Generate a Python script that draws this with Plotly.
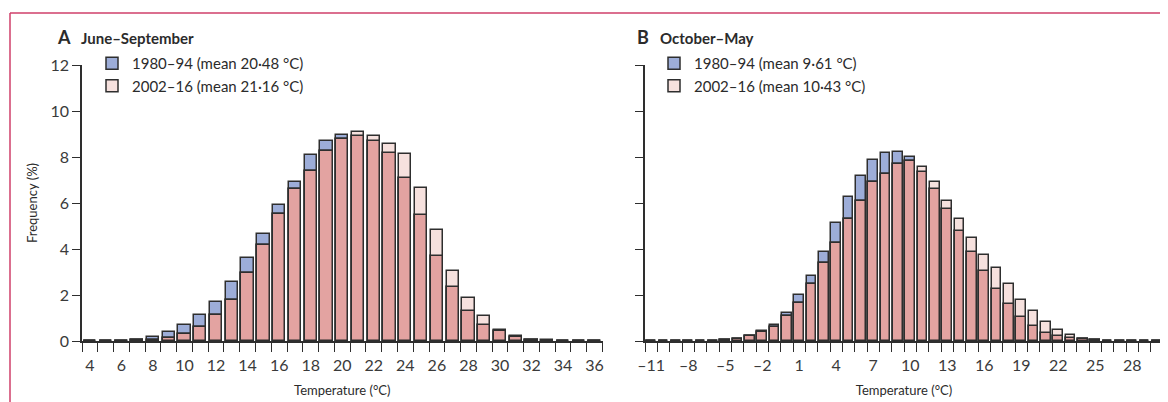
import plotly.graph_objects as go

# ---------------- data ----------------
a_bins = list(range(4, 37))            # panel A temperature bins (°C)
a_1980 = [0.02, 0.02, 0.02, 0.05, 0.19, 0.41, 0.68, 1.14, 1.68, 2.55, 3.59,
          4.67, 5.90, 6.91, 8.09, 8.68, 8.94, 8.90, 8.70, 8.19, 7.10, 5.48,
          3.71, 2.36, 1.32, 0.71, 0.42, 0.17, 0.04, 0.02, 0.01, 0.01, 0.0]
a_2002 = [0.01, 0.01, 0.01, 0.03, 0.05, 0.12, 0.29, 0.62, 1.12, 1.77, 2.94,
          4.17, 5.52, 6.61, 7.38, 8.26, 8.78, 9.10, 8.90, 8.58, 8.13, 6.65,
          4.83, 3.03, 1.87, 1.10, 0.49, 0.20, 0.06, 0.03, 0.01, 0.01, 0.0]

b_bins = list(range(-11, 31))          # panel B temperature bins (°C)
b_1980 = [0.0, 0.0, 0.01, 0.01, 0.01, 0.02, 0.05, 0.10, 0.22, 0.42, 0.71,
          1.22, 2.00, 2.83, 3.87, 5.12, 6.25, 7.17, 7.88, 8.16, 8.23, 7.99,
          7.35, 6.59, 5.75, 4.80, 3.88, 3.06, 2.28, 1.61, 1.03, 0.67, 0.36,
          0.20, 0.12, 0.08, 0.03, 0.02, 0.01, 0.01, 0.0, 0.0]
b_2002 = [0.0, 0.0, 0.0, 0.01, 0.01, 0.01, 0.04, 0.09, 0.20, 0.40, 0.62,
          1.07, 1.67, 2.49, 3.41, 4.28, 5.32, 6.09, 6.93, 7.28, 7.68, 7.83,
          7.55, 6.90, 6.07, 5.32, 4.49, 3.75, 3.16, 2.49, 1.80, 1.30, 0.83,
          0.46, 0.25, 0.10, 0.04, 0.02, 0.01, 0.01, 0.0, 0.0]

a_names = ["1980–94 (mean 20·48 °C)", "2002–16 (mean 21·16 °C)"]
b_names = ["1980–94 (mean 9·61 °C)", "2002–16 (mean 10·43 °C)"]
a_ticks = list(range(4, 37, 2))
b_ticks = list(range(-11, 29, 3))
y_ticks = list(range(0, 13, 2))

# ---------------- style ----------------
FONT = "Lato"
TXT = "#2b2b2b"
BLUE = "#9dadd8"
PINK = "#f6e1de"
SALMON = "#e3a3a1"
EDGE = "#2e2e2e"
W, H = 1168, 402
OFF = 8          # page body margin: figure is drawn 8 px right/down
ML, MR, MT, MB = 74, 5, 57, 69
PW, PH = W - ML - MR, H - MT - MB


def px_x(px):
    return (px - OFF - ML) / PW


def px_y(py):
    return (H - MB - (py - OFF)) / PH


fig = go.Figure()


def add_panel(bins, old, new, names, xa, ya, leg):
    overlap = [min(o, n) for o, n in zip(old, new)]
    common = dict(x=bins, width=0.78, xaxis=xa, yaxis=ya,
                  marker_line=dict(color=EDGE, width=1.5))
    fig.add_trace(go.Bar(y=old, name=names[0], marker_color=BLUE,
                         legend=leg, **common))
    fig.add_trace(go.Bar(y=new, name=names[1], marker_color=PINK,
                         legend=leg, **common))
    fig.add_trace(go.Bar(y=overlap, marker_color=SALMON, showlegend=False,
                         hoverinfo="skip", **common))


add_panel(a_bins, a_1980, a_2002, a_names, "x", "y", "legend")
add_panel(b_bins, b_1980, b_2002, b_names, "x2", "y2", "legend2")


def xaxis_cfg(bins, ticks, dom, text):
    edges = [b - 0.5 for b in bins] + [bins[-1] + 0.5]
    return dict(domain=dom, range=[bins[0] - 0.5, bins[-1] + 0.5],
                tickmode="array", tickvals=ticks,
                ticktext=[str(t).replace("-", "–") for t in ticks],
                ticks="outside", ticklen=9, tickcolor="rgba(0,0,0,0)",
                minor=dict(tickmode="array", tickvals=edges, ticks="outside",
                           ticklen=9, tickcolor=EDGE, tickwidth=1.3),
                showline=True, linecolor=EDGE, linewidth=1.5,
                showgrid=False, zeroline=False,
                tickfont=dict(size=16, color="#3a3a3a", family=FONT),
                title=dict(text=text, font=dict(size=13, color=TXT, family=FONT),
                           standoff=13),
                automargin=False)


def yaxis_cfg(anchor, labels):
    return dict(domain=[0, 1], range=[0, 12], anchor=anchor,
                tickmode="array", tickvals=y_ticks, ticks="outside",
                ticklen=8, tickcolor=EDGE, tickwidth=1.3,
                showticklabels=labels, showline=True, linecolor=EDGE,
                linewidth=1.5, showgrid=False, zeroline=False,
                tickfont=dict(size=16, color="#3a3a3a", family=FONT),
                automargin=False)


fig.update_layout(
    width=W, height=H,
    margin=dict(l=ML, r=MR, t=MT, b=MB),
    paper_bgcolor="white", plot_bgcolor="white",
    barmode="overlay", bargap=0,
    font=dict(family=FONT, color=TXT, size=14),
    xaxis=xaxis_cfg(a_bins, a_ticks, [px_x(82), px_x(602.5)], "Temperature (°C)"),
    xaxis2=dict(xaxis_cfg(b_bins, b_ticks, [px_x(645), px_x(1163)],
                          "Temperature (°C)"), anchor="y2"),
    yaxis=dict(yaxis_cfg("x", True),
               title=dict(text="Frequency (%)", standoff=10,
                          font=dict(size=13, color=TXT, family=FONT))),
    yaxis2=yaxis_cfg("x2", False),
    legend=dict(x=px_x(92), y=px_y(47), xanchor="left", yanchor="top",
                bgcolor="rgba(0,0,0,0)", font=dict(size=15, color=TXT),
                tracegroupgap=0, itemclick=False),
    legend2=dict(x=px_x(654), y=px_y(47), xanchor="left", yanchor="top",
                 bgcolor="rgba(0,0,0,0)", font=dict(size=15, color=TXT),
                 tracegroupgap=0, itemclick=False),
    showlegend=True,
)

# panel titles
for letter, title, lx, tx in [("A", "June–September", 55, 79),
                              ("B", "October–May", 635, 658)]:
    fig.add_annotation(text=f"<b>{letter}</b>", x=px_x(lx), y=px_y(37),
                       xref="paper", yref="paper", xanchor="left",
                       yanchor="middle", showarrow=False,
                       font=dict(size=18, color=TXT, family=FONT))
    fig.add_annotation(text=f"<b>{title}</b>", x=px_x(tx), y=px_y(38),
                       xref="paper", yref="paper", xanchor="left",
                       yanchor="middle", showarrow=False,
                       font=dict(size=15, color=TXT, family=FONT))

# journal frame (pink rule)
BORDER = "#cf3f6a"
fig.add_shape(type="line", xref="paper", yref="paper",
              x0=px_x(10), x1=px_x(W + OFF), y0=px_y(13), y1=px_y(13),
              line=dict(color=BORDER, width=1.5))
fig.add_shape(type="line", xref="paper", yref="paper",
              x0=px_x(10), x1=px_x(10), y0=px_y(13), y1=px_y(H + OFF),
              line=dict(color=BORDER, width=1.5))

fig.write_html("out.html")
